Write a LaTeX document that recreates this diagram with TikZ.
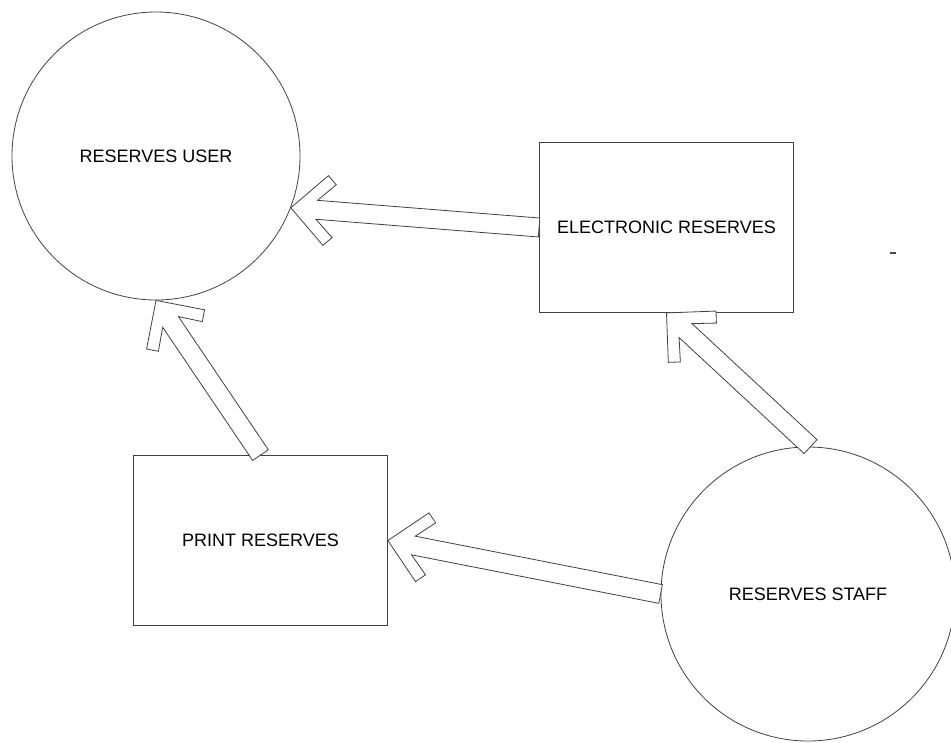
\documentclass[tikz,border=0pt]{standalone}
\usepackage{fontspec}
\setmainfont{Liberation Sans}
\usetikzlibrary{calc}
\tikzset{
  outline/.style={draw=black!75, line width=0.6pt},
  circlenode/.style={outline, circle, inner sep=0pt, align=center,
    font=\fontsize{13.5}{16}\selectfont},
  boxnode/.style={outline, rectangle, inner sep=0pt, align=center,
    minimum width=190.5pt, minimum height=127.5pt,
    font=\fontsize{13.5}{16}\selectfont},
  blockarr/.style={outline, fill=white, line join=miter},
}
\makeatletter
\newcommand\blockarrow[2]{%
  \pgfpointdiff{\pgfpointanchor{#2}{center}}{\pgfpointanchor{#1}{center}}%
  \pgfmathveclen{\pgf@x}{\pgf@y}\let\tmplen\pgfmathresult
  \pgfmathsetmacro\arrlen{\tmplen/0.75}%
  \pgfmathanglebetweenpoints{\pgfpointanchor{#2}{center}}{\pgfpointanchor{#1}{center}}%
  \let\arrang\pgfmathresult
  \begin{scope}[shift={(#2)}, rotate=\arrang]
    \draw[blockarr] (0,0) -- (35,35) -- (43.5,26.5) -- (26,9.5) -- (\arrlen,9.5)
      -- (\arrlen,-9.5) -- (26,-9.5) -- (43.5,-26.5) -- (35,-35) -- cycle;
  \end{scope}}
\makeatother
\begin{document}
\begin{tikzpicture}[x=0.75pt, y=-0.75pt]
  \useasboundingbox (0,0) rectangle (951,743);
  \node[circlenode, minimum size=216pt] (user) at (156,156) {RESERVES USER};
  \node[boxnode] (elec) at (666.5,227.5) {ELECTRONIC RESERVES};
  \node[boxnode] (print) at (260.5,540.5) {PRINT RESERVES};
  \node[circlenode, minimum size=220.5pt] (staff) at (808,594) {RESERVES STAFF};

  \coordinate (a1s) at (elec.west);   \coordinate (a1e) at (user.-21);
  \coordinate (a2s) at (staff.89);    \coordinate (a2e) at (elec.south);
  \coordinate (a3s) at (staff.west);  \coordinate (a3e) at (print.east);
  \coordinate (a4s) at (print.north); \coordinate (a4e) at (user.south);

  \blockarrow{a1s}{a1e}
  \blockarrow{a2s}{a2e}
  \blockarrow{a3s}{a3e}
  \blockarrow{a4s}{a4e}

  \coordinate (m1) at (890,253);
  \coordinate (m2) at (896,253);
  \draw[black!70, line width=1.2pt] (m1) -- (m2);
\end{tikzpicture}
\end{document}
